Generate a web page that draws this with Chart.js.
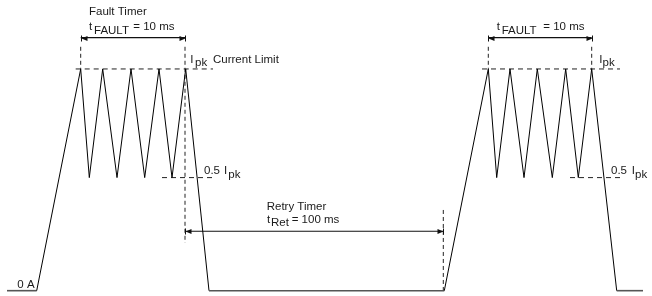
<!DOCTYPE html>
<html>
<head>
<meta charset="utf-8">
<script src="https://cdn.jsdelivr.net/npm/chart.js@4/dist/chart.umd.min.js"></script>
<style>
  html, body { margin: 0; padding: 0; background: #fff; }
  #wrap { width: 652px; height: 296px; }
</style>
</head>
<body>
<div id="wrap"><canvas id="faultChart" width="652" height="296"></canvas></div>
<script>
// waveform: time (diagram units) vs current (fraction of Ipk)
var waveTime    = [7, 36.7, 80.7, 89.3, 102.7, 117, 131, 144.7, 159, 172, 185.7, 209, 444.3, 488.3, 496.7, 510, 524, 537.3, 552.3, 565.7, 578.3, 591.7, 616.7, 643];
var waveCurrent = [0, 0,    1,    0.51, 1,     0.51, 1,   0.51,  1,   0.51, 1,    0,   0,     1,     0.51,  1,   0.51, 1,     0.51,  1,     0.51,  1,     0,     0];

// dashed guide levels (null breaks the line)
var guideTime  = [75.7, 213, null, 482, 620, null, 162, 216, null, 570, 621.7];
var guideLevel = [1,    1,   null, 1,   1,   null, 0.51, 0.51, null, 0.51, 0.51];

// dashed timer markers
var markTime  = [80.7, 80.7, null, 185, 185,   null, 488.3, 488.3, null, 591.7, 591.7, null, 443.3, 443.3];
var markLevel = [1.10, 1,    null, 1.10, 0.215, null, 1.10, 1,     null, 1.10,  1,     null, 0.364, 0];

// timer spans
var faultSpan1 = [80.7, 185];
var faultSpan2 = [488.3, 591.7];
var retrySpan  = [185, 443.3];
var faultLevel = 1.141;
var retryLevel = 0.268;

var labels = [
  { t: 'Fault Timer', x: 89, v: 1.2436 },
  { t: 't', x: 89, v: 1.1737 }, { t: 'FAULT', x: 94, v: 1.1737, sub: true }, { t: '= 10 ms', x: 133.3, v: 1.1737 },
  { t: 'I', x: 190.3, v: 1.027 }, { t: 'pk', x: 195, v: 1.027, sub: true }, { t: 'Current Limit', x: 213, v: 1.027 },
  { t: '0.5', x: 204, v: 0.525 }, { t: 'I', x: 224, v: 0.525 }, { t: 'pk', x: 228.3, v: 0.525, sub: true },
  { t: 'Retry Timer', x: 266.7, v: 0.3618 },
  { t: 't', x: 267, v: 0.3067 }, { t: 'Ret', x: 271, v: 0.3067, sub: true }, { t: '= 100 ms', x: 291.7, v: 0.3067 },
  { t: '0 A', x: 17.3, v: 0.0099 },
  { t: 't', x: 496.7, v: 1.1737 }, { t: 'FAULT', x: 501.7, v: 1.1737, sub: true }, { t: '= 10 ms', x: 543.3, v: 1.1737 },
  { t: 'I', x: 599.3, v: 1.027 }, { t: 'pk', x: 602.5, v: 1.027, sub: true },
  { t: '0.5', x: 611, v: 0.525 }, { t: 'I', x: 631.7, v: 0.525 }, { t: 'pk', x: 635, v: 0.525, sub: true }
];

function pts(xs, ys) {
  return xs.map(function (x, i) { return { x: x, y: ys[i] }; });
}

var arrowPlugin = {
  id: 'arrowsAndText',
  afterDatasetsDraw: function (chart) {
    var c = chart.ctx;
    var xs = chart.scales.x, ys = chart.scales.y;
    c.save();
    chart.data.datasets.forEach(function (ds, i) {
      if (!ds.arrows) return;
      var meta = chart.getDatasetMeta(i);
      var a = meta.data[0], b = meta.data[meta.data.length - 1];
      [[a, 1], [b, -1]].forEach(function (e) {
        var px = Math.round(e[0].x) + 0.5, py = Math.round(e[0].y) + 0.5;
        c.fillStyle = '#111';
        c.beginPath();
        c.moveTo(px, py);
        c.lineTo(px + e[1] * 6, py - 2.5);
        c.lineTo(px + e[1] * 6, py + 2.5);
        c.closePath();
        c.fill();
        c.strokeStyle = '#111';
        c.lineWidth = 1;
        c.beginPath();
        c.moveTo(px, py - 3);
        c.lineTo(px, py + 3);
        c.stroke();
      });
    });
    c.fillStyle = '#1a1a1a';
    c.font = '11.5px "Liberation Sans", Arial, sans-serif';
    c.textBaseline = 'alphabetic';
    labels.forEach(function (l) {
      var px = xs.getPixelForValue(l.x);
      var py = ys.getPixelForValue(l.v) + (l.sub ? 3.4 : 0);
      c.fillText(l.t, px, py);
    });
    c.restore();
  }
};

var ctx = document.getElementById('faultChart');
var faultChart = new Chart(ctx, {
  type: 'line',
  data: {
    datasets: [
      {
        label: 'Current',
        data: pts(waveTime, waveCurrent),
        borderColor: '#000',
        borderWidth: 1,
        segment: {
          borderColor: function (s) { return (s.p0.parsed.y === 0 && s.p1.parsed.y === 0) ? '#555' : '#000'; },
          borderWidth: function (s) { return (s.p0.parsed.y === 0 && s.p1.parsed.y === 0) ? 1.6 : 1; }
        }
      },
      {
        label: 'Levels',
        data: pts(guideTime, guideLevel),
        borderColor: '#222',
        borderWidth: 1,
        borderDash: [5, 4]
      },
      {
        label: 'Markers',
        data: pts(markTime, markLevel),
        borderColor: '#222',
        borderWidth: 1,
        borderDash: [4, 3]
      },
      { label: 'Fault 1', arrows: true, data: pts(faultSpan1, [faultLevel, faultLevel]), borderColor: '#111', borderWidth: 1.2 },
      { label: 'Fault 2', arrows: true, data: pts(faultSpan2, [faultLevel, faultLevel]), borderColor: '#111', borderWidth: 1.2 },
      { label: 'Retry', arrows: true, data: pts(retrySpan, [retryLevel, retryLevel]), borderColor: '#111', borderWidth: 1.2 }
    ]
  },
  options: {
    responsive: false,
    animation: false,
    spanGaps: false,
    layout: { padding: 0 },
    elements: { point: { radius: 0 }, line: { tension: 0 } },
    plugins: { legend: { display: false }, tooltip: { enabled: false } },
    scales: {
      x: { type: 'linear', min: 0, max: 652, display: false },
      y: { type: 'linear', min: -0.024, max: 1.311, display: false }
    }
  },
  plugins: [arrowPlugin]
});
</script>
</body>
</html>
